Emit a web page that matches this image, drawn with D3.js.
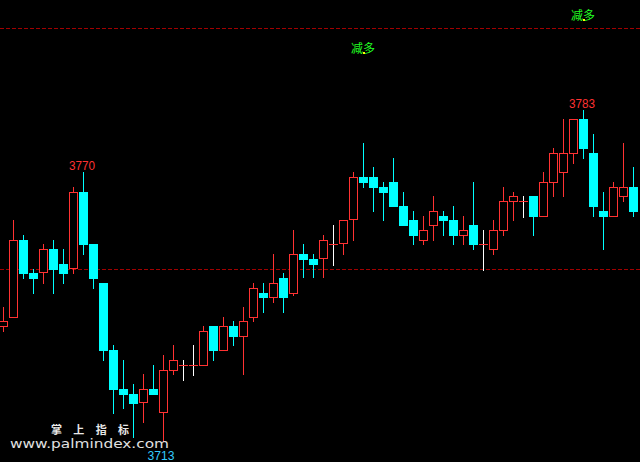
<!DOCTYPE html>
<html>
<head>
<meta charset="utf-8">
<script src="https://cdn.jsdelivr.net/npm/d3@7"></script>
<style>
  html, body { margin: 0; padding: 0; background: #000; }
  svg { display: block; }
</style>
</head>
<body>
<svg id="chart" width="640" height="462"></svg>
<script>
// ---- data ----
const openVals  = [3737.3,3739.2,3755.6,3748.7,3748.7,3753.7,3750.6,3749.5,3765.7,3754.8,3746.6,3732.5,3724.3,3723.2,3721.3,3724.3,3719.2,3728.1,3729.3,3729.3,3729.1,3737.5,3732.3,3737.5,3735.2,3739.2,3744.5,3743.4,3747.6,3744.3,3752.7,3751.6,3751.6,3754.8,3754.8,3759.8,3768.9,3768.9,3766.8,3767.8,3762.8,3759.8,3755.5,3758.6,3760.7,3759.8,3756.5,3758.8,3754.8,3753.6,3757.6,3763.7,3763.8,3764.9,3760.5,3767.7,3769.8,3773.8,3781.1,3774.0,3761.7,3760.5,3764.7,3766.8];
const highVals  = [3741.5,3759.8,3756.7,3749.5,3754.8,3755.6,3753.7,3766.8,3770.0,3754.8,3746.6,3733.5,3730.4,3725.3,3727.4,3729.3,3731.4,3733.5,3730.4,3733.5,3737.5,3737.5,3739.4,3738.6,3741.5,3746.6,3746.6,3752.7,3748.7,3757.7,3754.8,3752.7,3756.7,3758.8,3759.8,3770.0,3776.1,3771.0,3767.8,3772.9,3765.7,3761.7,3760.7,3764.9,3761.7,3762.8,3760.7,3767.8,3757.7,3759.8,3766.8,3765.7,3764.9,3764.9,3770.0,3775.0,3781.1,3781.1,3783.0,3777.9,3765.7,3767.8,3776.1,3771.0];
const lowVals   = [3736.3,3739.2,3747.4,3744.3,3746.4,3744.3,3746.4,3748.5,3752.5,3745.3,3730.2,3719.0,3720.1,3714.0,3717.1,3723.0,3713.1,3727.2,3726.2,3727.2,3729.1,3730.2,3732.3,3733.3,3727.2,3738.4,3740.3,3742.4,3740.3,3743.8,3747.6,3747.6,3747.6,3750.4,3752.5,3755.4,3766.6,3761.5,3759.6,3762.6,3758.6,3754.6,3754.6,3755.4,3756.5,3754.6,3754.6,3753.5,3749.3,3752.5,3756.5,3759.6,3760.5,3756.5,3760.5,3764.7,3764.7,3771.7,3772.7,3760.5,3753.5,3760.5,3763.6,3760.5];
const closeVals = [3738.6,3755.6,3748.5,3747.4,3753.7,3749.3,3748.5,3765.7,3754.6,3747.4,3732.3,3724.1,3723.0,3721.1,3724.3,3723.0,3728.3,3730.4,3729.3,3729.3,3736.5,3732.3,3737.5,3735.2,3738.6,3745.5,3743.4,3746.6,3743.4,3752.7,3751.4,3750.4,3755.6,3754.8,3759.8,3768.9,3767.6,3766.6,3765.5,3762.6,3758.6,3756.5,3757.7,3761.7,3759.6,3756.5,3757.7,3754.6,3754.8,3757.7,3763.8,3764.9,3763.8,3760.5,3767.8,3774.0,3774.0,3781.1,3774.8,3762.6,3760.5,3766.8,3766.8,3761.5];
const bars = openVals.map((_, i) => i);           // bar indices (categories)
const refLevels = [3800.2, 3749.5];               // dashed reference lines
const highMarks = [8, 58];                        // bars whose high is labelled
const lowMarks  = [16];                           // bars whose low is labelled
const signalBars = [36, 58];                      // "减多" signals
const signalText = "减多";
const watermark1 = "掌 上 指 标";
const watermark2 = "www.palmindex.com";

// ---- layout ----
const W = 640, H = 462;
const svg = d3.select("#chart");
svg.append("rect").attr("width", W).attr("height", H).attr("fill", "#000");

const x = d3.scaleBand().domain(bars).range([-1, 638]).paddingInner(0.1).paddingOuter(0);
const y = d3.scaleLinear().domain([3708.9, 3806.2]).range([H, 0]);

const UP = "#ff3232", DOWN = "#00ffff", DOJI = "#ffffff";

// reference dashed lines
svg.selectAll("line.ref").data(refLevels).enter().append("line")
  .attr("x1", 0).attr("x2", W)
  .attr("y1", d => Math.round(y(d)) + 0.5).attr("y2", d => Math.round(y(d)) + 0.5)
  .attr("stroke", "#a00000").attr("stroke-width", 1).attr("stroke-dasharray", "4,2");

const g = svg.append("g");
bars.forEach(i => {
  const o = openVals[i], h = highVals[i], l = lowVals[i], c = closeVals[i];
  const left = Math.round(x(i));
  const cx = left + 4.5;
  const yt = Math.round(y(Math.max(o, c)));
  const yb = Math.round(y(Math.min(o, c)));
  const yh = Math.round(y(h));
  const yl = Math.round(y(l));
  if (o === c) {
    g.append("line").attr("x1", cx).attr("x2", cx).attr("y1", yh).attr("y2", yl + 1)
      .attr("stroke", DOJI);
    g.append("line").attr("x1", left).attr("x2", left + 9).attr("y1", yt + 0.5).attr("y2", yt + 0.5)
      .attr("stroke", UP);
    return;
  }
  const col = c > o ? UP : DOWN;
  if (yh < yt) g.append("line").attr("x1", cx).attr("x2", cx).attr("y1", yh).attr("y2", yt).attr("stroke", col);
  if (yl > yb) g.append("line").attr("x1", cx).attr("x2", cx).attr("y1", yb).attr("y2", yl).attr("stroke", col);
  if (c > o) {
    g.append("rect").attr("x", left + 0.5).attr("y", yt + 0.5)
      .attr("width", 8).attr("height", Math.max(1, yb - yt - 1))
      .attr("fill", "#000").attr("stroke", col).attr("stroke-width", 1);
  } else {
    g.append("rect").attr("x", left).attr("y", yt)
      .attr("width", 9).attr("height", Math.max(1, yb - yt))
      .attr("fill", col);
  }
});

// high / low labels
svg.selectAll("text.hi").data(highMarks).enter().append("text")
  .attr("x", d => x(d) + 3).attr("y", d => y(highVals[d]) - 2)
  .attr("text-anchor", "middle").attr("fill", "#ff3232")
  .attr("font-family", "Liberation Sans, Arial, sans-serif").attr("font-size", 13)
  .attr("textLength", 26).attr("lengthAdjust", "spacingAndGlyphs")
  .text(d => Math.round(highVals[d]));
svg.selectAll("text.lo").data(lowMarks).enter().append("text")
  .attr("x", d => x(d) + 2).attr("y", d => y(lowVals[d]) + 18)
  .attr("text-anchor", "middle").attr("fill", "#33ccff")
  .attr("font-family", "Liberation Sans, Arial, sans-serif").attr("font-size", 13)
  .attr("textLength", 27).attr("lengthAdjust", "spacingAndGlyphs")
  .text(d => Math.round(lowVals[d]));

// signals
signalBars.forEach(i => {
  const cx = x(i) + 4;
  const yy = y(highVals[i]) - 90;
  svg.append("text").attr("x", cx).attr("y", yy)
    .attr("text-anchor", "middle").attr("fill", "#22ff22")
    .attr("font-family", "Noto Sans CJK SC, sans-serif").attr("font-size", 12)
    .text(signalText);
  svg.append("rect").attr("x", Math.round(cx)).attr("y", Math.round(yy) - 1)
    .attr("width", 2).attr("height", 2).attr("fill", "#ffff00");
});

// watermark
svg.append("text").attr("x", 51).attr("y", 434)
  .attr("fill", "#e8e8e8").attr("font-weight", "bold")
  .attr("font-family", "Noto Sans CJK SC, sans-serif").attr("font-size", 11)
  .attr("textLength", 78).attr("lengthAdjust", "spacing")
  .text(watermark1);
svg.append("text").attr("x", 10).attr("y", 448)
  .attr("fill", "#e0e0e0")
  .attr("font-family", "DejaVu Sans, sans-serif").attr("font-size", 13)
  .attr("textLength", 159).attr("lengthAdjust", "spacingAndGlyphs")
  .text(watermark2);
</script>
</body>
</html>
